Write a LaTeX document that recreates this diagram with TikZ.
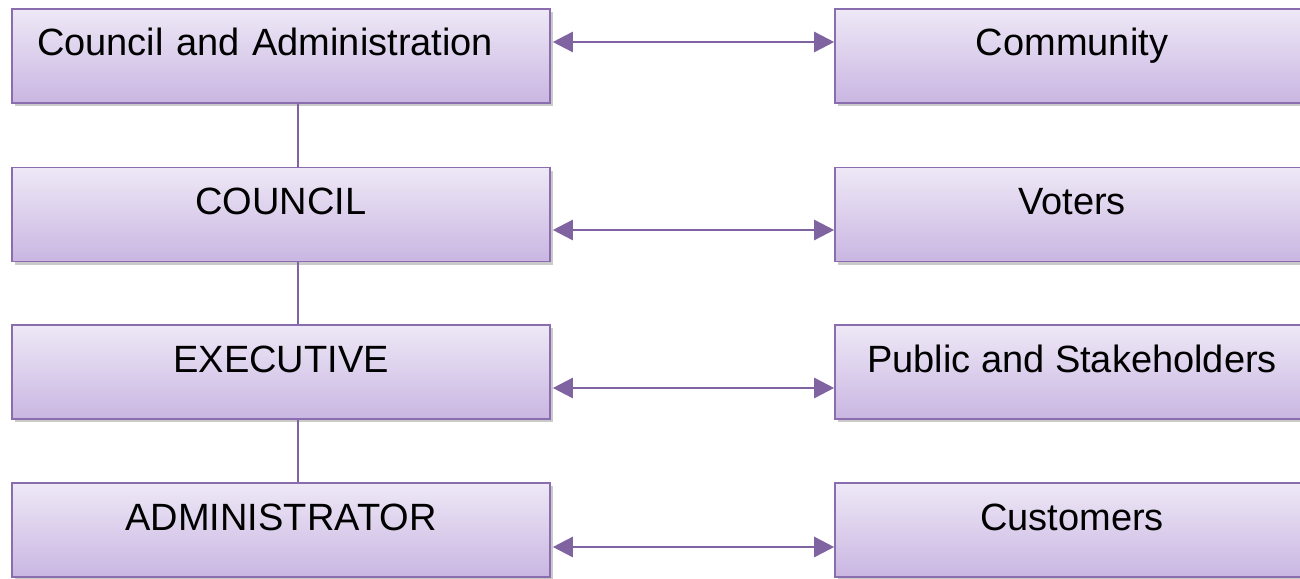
\documentclass[tikz,border=0pt]{standalone}
\usepackage{fontspec}
\setmainfont{Liberation Sans}
\usetikzlibrary{arrows.meta,shadows}

\definecolor{boxtop}{HTML}{EEE8F6}
\definecolor{boxbot}{HTML}{C9B6E2}
\definecolor{boxedge}{HTML}{8A6DAE}
\definecolor{linkcol}{HTML}{8064A2}

\tikzset{
  unitbox/.style={
    rectangle, draw=boxedge, line width=1.6pt,
    top color=boxtop, bottom color=boxbot,
    minimum height=94pt, inner ysep=17pt,
    text height=30pt, text depth=30pt,
    font=\fontsize{38}{44}\selectfont,
    drop shadow={shadow xshift=3pt, shadow yshift=-3pt, opacity=0.35, fill=black!60}
  },
  leftbox/.style={unitbox, minimum width=538pt},
  rightbox/.style={unitbox, minimum width=474pt},
  biarrow/.style={draw=linkcol, line width=2.6pt,
    {Triangle[length=20pt,width=20pt]}-{Triangle[length=20pt,width=20pt]}},
  spine/.style={draw=linkcol, line width=1.8pt}
}

\begin{document}
\begin{tikzpicture}[x=1pt,y=-1pt]
  \useasboundingbox (0,0) rectangle (1300,578);

  % left column: the chain of roles
  \node[leftbox, inner xsep=25pt, text width=488pt, align=left] (ca) at (281,56) {Council and Administration};
  \node[leftbox] (council) at (281,214.5) {COUNCIL};
  \node[leftbox] (exec)    at (281,372)   {EXECUTIVE};
  \node[leftbox] (admin)   at (281,530)   {ADMINISTRATOR};

  % right column: who each role answers to
  \node[rightbox] (community) at (1072,56)    {Community};
  \node[rightbox] (voters)    at (1072,214.5) {Voters};
  \node[rightbox] (public)    at (1072,372)   {Public and Stakeholders};
  \node[rightbox] (customers) at (1072,530)   {Customers};

  % heights of the two-way links and x of the vertical spine
  \coordinate (h1) at (0,42);
  \coordinate (h2) at (0,230);
  \coordinate (h3) at (0,388);
  \coordinate (h4) at (0,547);
  \coordinate (sx) at (298,0);

  % vertical spine between the left boxes
  \draw[spine] (ca.south -| sx) -- (council.north -| sx);
  \draw[spine] (council.south -| sx) -- (exec.north -| sx);
  \draw[spine] (exec.south -| sx) -- (admin.north -| sx);

  % two-way links
  \draw[biarrow, shorten <=2pt] (ca.east |- h1) -- (community.west |- h1);
  \draw[biarrow, shorten <=2pt] (council.east |- h2) -- (voters.west |- h2);
  \draw[biarrow, shorten <=2pt] (exec.east |- h3) -- (public.west |- h3);
  \draw[biarrow, shorten <=2pt] (admin.east |- h4) -- (customers.west |- h4);
\end{tikzpicture}
\end{document}
